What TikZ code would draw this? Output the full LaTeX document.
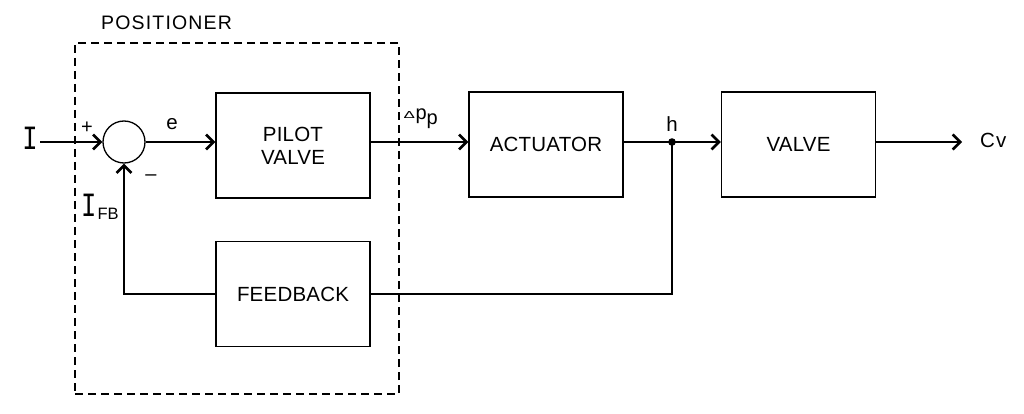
\documentclass[tikz,border=0pt]{standalone}
\usepackage{fontspec}
\setmainfont{Liberation Sans}
\newfontfamily\cadfont[LetterSpace=1]{Liberation Sans}
\newfontfamily\posfont[LetterSpace=6]{Liberation Sans}
\newfontfamily\monof{Liberation Mono}
\usetikzlibrary{arrows.meta}
\newcommand{\bigI}{\scalebox{0.75}[1]{\monof\fontsize{34}{34}\selectfont I}}
\begin{document}
\begin{tikzpicture}[x=1pt,y=-1pt,
  blk/.style={draw, line width=1.3pt, minimum width=154pt, minimum height=105pt,
    inner sep=0pt, align=center, font=\cadfont\fontsize{20.5}{23}\selectfont},
  sig/.style={line width=2.8pt, -{Straight Barb[length=7.5pt,width=15pt,line width=2.6pt]}},
  wire/.style={line width=2.8pt},
  lbl/.style={inner sep=0pt, font=\cadfont\fontsize{20.5}{22}\selectfont}]
\useasboundingbox (0,0) rectangle (1024,414);
\fill[white] (0,0) rectangle (1024,414);
% positioner frame
\node[draw, line width=1.1pt, dash pattern=on 8pt off 5pt, minimum width=324pt,
  minimum height=351pt, inner sep=0pt] (pos) at (237,218.5) {};
\node[inner sep=0pt, font=\posfont\fontsize{19.5}{20}\selectfont, anchor=west] (posl) at (101,23) {POSITIONER};
% blocks
\node[blk] (pilot) at (293,145.5) {PILOT\\VALVE};
\node[blk] (fb) at (293,294) {FEEDBACK};
\node[blk] (act) at (546,144.5) {ACTUATOR};
\node[blk] (valve) at (798.5,144.5) {VALVE};
\node[draw, circle, line width=1.3pt, minimum size=42pt, inner sep=0pt] (sum) at (124,142) {};
% coordinates
\coordinate (in) at (40,142);
\coordinate (h) at (672,142);
\coordinate (out) at (962,142);
% connectors
\draw[sig] (in) -- (sum.west);
\draw[sig] (sum.east) -- (sum.east -| pilot.west);
\draw[sig] (pilot.east |- sum.east) -- (act.west |- sum.east);
\draw[wire] (act.east |- h) -- (h);
\draw[sig] (h) -- (valve.west |- h);
\draw[sig] (valve.east |- h) -- (out);
\draw[wire] (h) |- (fb.east);
\draw[sig] (fb.west) -| (sum.south);
\fill (h) circle (3.8pt);
% labels
\node[inner sep=0pt] (il) at (30,138) {\bigI};
\node[inner sep=0pt, font=\fontsize{20}{20}\selectfont] (plus) at (87,128) {+};
\node[inner sep=0pt, font=\fontsize{20}{20}\selectfont] (minus) at (151,178) {\textendash};
\node[lbl] (el) at (172,124) {e};
\node[inner sep=0pt, anchor=west] (ifb) at (81,207) {\bigI\kern1pt\raisebox{-3pt}{\cadfont\fontsize{16.5}{16.5}\selectfont FB}};
\node[inner sep=0pt, anchor=west] (dp) at (404,119) {\raisebox{1pt}{\scalebox{1}[0.6]{\fontsize{17}{17}\selectfont ∆}}\kern1pt{\fontsize{20}{20}\selectfont p\raisebox{-5pt}{p}}};
\node[lbl] (hl) at (672,124) {h};
\node[lbl, anchor=west] (cv) at (980,140) {C\kern1pt v};
\end{tikzpicture}
\end{document}
